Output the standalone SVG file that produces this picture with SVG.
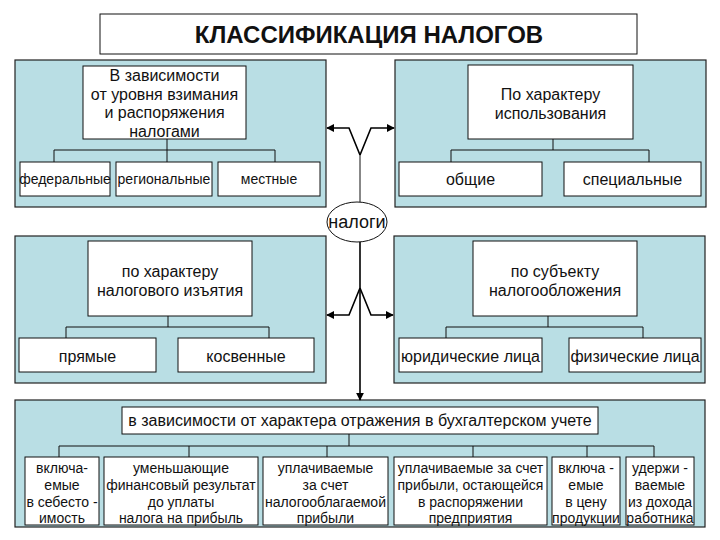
<svg xmlns="http://www.w3.org/2000/svg" width="720" height="540" viewBox="0 0 720 540">
<defs>
<style>
.panel{fill:#B9DEE4;stroke:#222;stroke-width:1.2}
.box{fill:#fff;stroke:#111;stroke-width:1}
.ln{fill:none;stroke:#111;stroke-width:1}
.arr{fill:none;stroke:#000;stroke-width:1.6}
text{font-family:"Liberation Sans",Arial,sans-serif;font-size:16px;fill:#111;text-anchor:middle}
.title{font-size:24px;font-weight:bold}
.big{font-size:18px}
.sm{font-size:14px}
</style>
<marker id="ah" viewBox="0 0 10 10" refX="9" refY="5" markerWidth="5" markerHeight="5" orient="auto" markerUnits="strokeWidth">
<path d="M0,0 L10,5 L0,10 z" fill="#000"/>
</marker>
</defs>
<rect width="720" height="540" fill="#fff"/>

<g id="title">
<rect class="box" x="100" y="14" width="537" height="40"/>
<text class="title" x="369" y="43">КЛАССИФИКАЦИЯ НАЛОГОВ</text>
</g>

<g id="panel-level">
<rect class="panel" x="15" y="60" width="311" height="147"/>
<path class="ln" d="M167,139 V150 M54,150 H275 M54,150 V162 M167,150 V162 M275,150 V162"/>
<g id="level-head"><rect class="box" x="83" y="66" width="163" height="73"/>
<text x="164.5" y="81">В зависимости</text>
<text x="164.5" y="100">от уровня взимания</text>
<text x="164.5" y="118">и распоряжения</text>
<text x="164.5" y="137">налогами</text></g>
<g id="federal"><rect class="box" x="20" y="162" width="90" height="34"/><text class="sm" x="65" y="184">федеральные</text></g>
<g id="regional"><rect class="box" x="116" y="162" width="96" height="34"/><text class="sm" x="164" y="184">региональные</text></g>
<g id="local"><rect class="box" x="218" y="162" width="102" height="34"/><text class="sm" x="269" y="184">местные</text></g>
</g>

<g id="panel-use">
<rect class="panel" x="395" y="60" width="311" height="147"/>
<path class="ln" d="M553,139 V150 M451,150 H649 M451,150 V162 M649,150 V162"/>
<g id="use-head"><rect class="box" x="468" y="65" width="165" height="74"/>
<text x="550.5" y="100">По характеру</text>
<text x="550.5" y="119">использования</text></g>
<g id="general"><rect class="box" x="399" y="162" width="143" height="34"/><text x="470.5" y="185">общие</text></g>
<g id="special"><rect class="box" x="564" y="162" width="137" height="34"/><text x="632.5" y="185">специальные</text></g>
</g>

<g id="panel-withdrawal">
<rect class="panel" x="15" y="236" width="311" height="147"/>
<path class="ln" d="M168,316 V327 M66,327 H269 M66,327 V338 M269,327 V338"/>
<g id="withdrawal-head"><rect class="box" x="88" y="241" width="164" height="75"/>
<text x="170" y="277">по характеру</text>
<text x="170" y="296">налогового изъятия</text></g>
<g id="direct"><rect class="box" x="19" y="338" width="137" height="34"/><text x="87.5" y="362">прямые</text></g>
<g id="indirect"><rect class="box" x="178" y="338" width="136" height="34"/><text x="246" y="362">косвенные</text></g>
</g>

<g id="panel-subject">
<rect class="panel" x="394" y="236" width="311" height="147"/>
<path class="ln" d="M548,316 V327 M446,327 H643 M446,327 V338 M643,327 V338"/>
<g id="subject-head"><rect class="box" x="473" y="241" width="164" height="75"/>
<text x="555" y="277">по субъекту</text>
<text x="555" y="296">налогообложения</text></g>
<g id="legal"><rect class="box" x="399" y="338" width="143" height="34"/><text x="470.5" y="362">юридические лица</text></g>
<g id="physical"><rect class="box" x="569" y="338" width="132" height="34"/><text x="635" y="362">физические лица</text></g>
</g>

<g id="panel-accounting">
<rect class="panel" x="15" y="400" width="690" height="127"/>
<path class="ln" d="M349,434 V446 M59,446 H654 M59,446 V457 M189,446 V457 M327,446 V457 M473,446 V457 M587,446 V457 M654,446 V457"/>
<g id="acc-head"><rect class="box" x="122" y="407" width="476" height="27"/>
<text x="360" y="426">в зависимости от характера отражения в бухгалтерском учете</text></g>
<g id="acc1"><rect class="box" x="25" y="457" width="74" height="68"/>
<text class="sm" x="62" y="473">включа-</text><text class="sm" x="62" y="490">емые</text><text class="sm" x="62" y="507">в себесто -</text><text class="sm" x="62" y="523">имость</text></g>
<g id="acc2"><rect class="box" x="104" y="457" width="154" height="68"/>
<text class="sm" x="181" y="473">уменьшающие</text><text class="sm" x="181" y="490">финансовый результат</text><text class="sm" x="181" y="507">до уплаты</text><text class="sm" x="181" y="523">налога на прибыль</text></g>
<g id="acc3"><rect class="box" x="263" y="457" width="125" height="68"/>
<text class="sm" x="325.5" y="473">уплачиваемые</text><text class="sm" x="325.5" y="490">за счет</text><text class="sm" x="325.5" y="507">налогооблагаемой</text><text class="sm" x="325.5" y="523">прибыли</text></g>
<g id="acc4"><rect class="box" x="394" y="457" width="153" height="68"/>
<text class="sm" x="470.5" y="473">уплачиваемые за счет</text><text class="sm" x="470.5" y="490">прибыли, остающейся</text><text class="sm" x="470.5" y="507">в распоряжении</text><text class="sm" x="470.5" y="523">предприятия</text></g>
<g id="acc5"><rect class="box" x="552" y="457" width="68" height="68"/>
<text class="sm" x="586" y="473">включа -</text><text class="sm" x="586" y="490">емые</text><text class="sm" x="586" y="507">в цену</text><text class="sm" x="586" y="523">продукции</text></g>
<g id="acc6"><rect class="box" x="626" y="457" width="68" height="68"/>
<text class="sm" x="660" y="473">удержи -</text><text class="sm" x="660" y="490">ваемые</text><text class="sm" x="660" y="507">из дохода</text><text class="sm" x="660" y="523">работника</text></g>
</g>

<g id="taxes">
<ellipse cx="357" cy="222" rx="30" ry="20" fill="#fff" stroke="#111" stroke-width="1"/>
<text class="big" x="357" y="228">налоги</text>
</g>

<g id="connectors">
<path class="ln" d="M360,202 V155"/>
<path class="arr" d="M360,155 L349,128 H327" marker-end="url(#ah)"/>
<path class="arr" d="M360,155 L371,128 H394" marker-end="url(#ah)"/>
<path class="arr" d="M360,242 V400" marker-end="url(#ah)"/>
<path class="arr" d="M360,288 L349,315 H327" marker-end="url(#ah)"/>
<path class="arr" d="M360,288 L371,315 H393" marker-end="url(#ah)"/>
</g>
</svg>
